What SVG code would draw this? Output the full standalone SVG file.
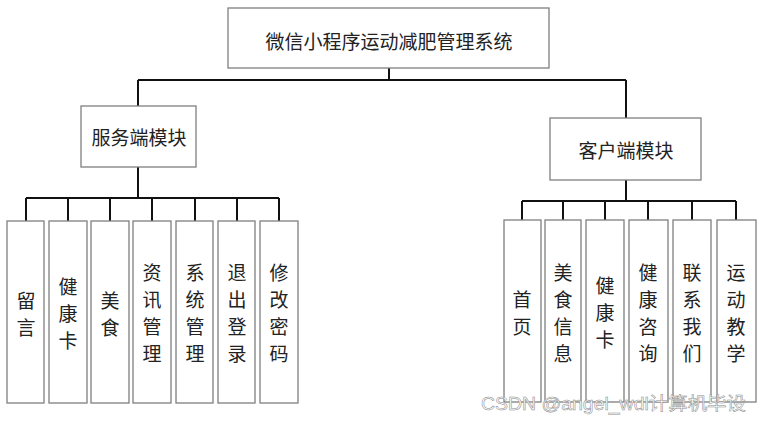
<svg xmlns="http://www.w3.org/2000/svg" width="761" height="423" viewBox="0 0 761 423">
<style>
.box{fill:#fff;stroke:#7f7f7f;stroke-width:1.3}
.t{font-family:"Noto Sans CJK SC","Liberation Sans",sans-serif;font-size:19px;fill:#222;text-anchor:middle;dominant-baseline:central}
.c{fill:none;stroke:#111;stroke-width:2}
.wm{font-family:"Liberation Sans","Noto Sans CJK SC",sans-serif;font-size:18px;fill:#fff;stroke:#8a8a8a;stroke-width:0.5}
</style>
<rect width="761" height="423" fill="#fff"/>
<g id="connectors">
<path class="c" d="M389 68V80M138 80H626M138 80V106M626 80V118"/>
<path class="c" d="M138 167V198M26 198H279M26 198V221M68 198V221M110 198V221M152 198V221M195 198V221M237 198V221M279 198V221"/>
<path class="c" d="M626 180V201M522 201H736M522 201V220M563 201V220M605 201V220M648 201V220M692 201V220M736 201V220"/>
</g>
<g id="root"><rect class="box" x="228" y="8" width="321" height="60"/><text class="t" x="389" y="40" font-size="20.5">微信小程序运动减肥管理系统</text></g>
<g id="server"><rect class="box" x="81" y="106" width="115" height="61"/><text class="t" x="139" y="136" font-size="20">服务端模块</text></g>
<g id="client"><rect class="box" x="550" y="118" width="151" height="62"/><text class="t" x="626" y="149" font-size="20">客户端模块</text></g>
<g id="s1"><rect class="box" x="7" y="221" width="37" height="182"/><text class="t" x="26"><tspan x="26" y="299">留</tspan><tspan x="26" y="326">言</tspan></text></g>
<g id="s2"><rect class="box" x="49" y="221" width="38" height="182"/><text class="t"><tspan x="68" y="285">健</tspan><tspan x="68" y="312">康</tspan><tspan x="68" y="339">卡</tspan></text></g>
<g id="s3"><rect class="box" x="91" y="221" width="38" height="182"/><text class="t"><tspan x="110" y="299">美</tspan><tspan x="110" y="326">食</tspan></text></g>
<g id="s4"><rect class="box" x="133" y="221" width="38" height="182"/><text class="t"><tspan x="152" y="271">资</tspan><tspan x="152" y="298">讯</tspan><tspan x="152" y="325">管</tspan><tspan x="152" y="352">理</tspan></text></g>
<g id="s5"><rect class="box" x="176" y="221" width="37" height="182"/><text class="t"><tspan x="195" y="271">系</tspan><tspan x="195" y="298">统</tspan><tspan x="195" y="325">管</tspan><tspan x="195" y="352">理</tspan></text></g>
<g id="s6"><rect class="box" x="218" y="221" width="37" height="182"/><text class="t"><tspan x="237" y="271">退</tspan><tspan x="237" y="298">出</tspan><tspan x="237" y="325">登</tspan><tspan x="237" y="352">录</tspan></text></g>
<g id="s7"><rect class="box" x="260" y="221" width="38" height="182"/><text class="t"><tspan x="279" y="271">修</tspan><tspan x="279" y="298">改</tspan><tspan x="279" y="325">密</tspan><tspan x="279" y="352">码</tspan></text></g>
<g id="c1"><rect class="box" x="504" y="220" width="37" height="182"/><text class="t"><tspan x="522" y="298">首</tspan><tspan x="522" y="325">页</tspan></text></g>
<g id="c2"><rect class="box" x="545" y="220" width="36" height="182"/><text class="t"><tspan x="563" y="271">美</tspan><tspan x="563" y="298">食</tspan><tspan x="563" y="325">信</tspan><tspan x="563" y="352">息</tspan></text></g>
<g id="c3"><rect class="box" x="586" y="220" width="38" height="182"/><text class="t"><tspan x="605" y="284">健</tspan><tspan x="605" y="311">康</tspan><tspan x="605" y="338">卡</tspan></text></g>
<g id="c4"><rect class="box" x="629" y="220" width="39" height="182"/><text class="t"><tspan x="648" y="271">健</tspan><tspan x="648" y="298">康</tspan><tspan x="648" y="325">咨</tspan><tspan x="648" y="352">询</tspan></text></g>
<g id="c5"><rect class="box" x="673" y="220" width="38" height="182"/><text class="t"><tspan x="692" y="271">联</tspan><tspan x="692" y="298">系</tspan><tspan x="692" y="325">我</tspan><tspan x="692" y="352">们</tspan></text></g>
<g id="c6"><rect class="box" x="717" y="220" width="39" height="182"/><text class="t"><tspan x="736" y="271">运</tspan><tspan x="736" y="298">动</tspan><tspan x="736" y="325">教</tspan><tspan x="736" y="352">学</tspan></text></g>
<text class="wm" x="481" y="410" textLength="265" lengthAdjust="spacingAndGlyphs">CSDN @angel_wdl计算机毕设</text>
</svg>
